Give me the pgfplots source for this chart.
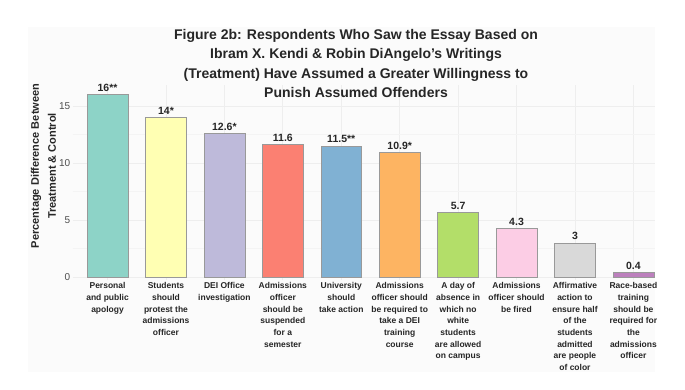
\documentclass[border=0pt]{standalone}
\usepackage{pgfplots}
\pgfplotsset{compat=1.18}
\usepackage{fontspec}
\setmainfont{Liberation Sans}
\definecolor{c1}{HTML}{8DD3C7}
\definecolor{c2}{HTML}{FFFFB3}
\definecolor{c3}{HTML}{BEBADA}
\definecolor{c4}{HTML}{FB8072}
\definecolor{c5}{HTML}{80B1D3}
\definecolor{c6}{HTML}{FDB462}
\definecolor{c7}{HTML}{B3DE69}
\definecolor{c8}{HTML}{FCCDE5}
\definecolor{c9}{HTML}{D9D9D9}
\definecolor{c10}{HTML}{BC80BD}
\definecolor{panelbg}{HTML}{FBFBFB}
\definecolor{gridmaj}{HTML}{EEEEEE}
\definecolor{gridmin}{HTML}{F4F4F4}
\definecolor{ticktxt}{HTML}{4D4D4D}
\pgfplotsset{mybar/.style={ybar, bar shift=0pt, bar width=0.7, draw=black!40, line width=0.5pt}}
\begin{document}
\begin{tikzpicture}
\path[use as bounding box] (0pt,0pt) rectangle (685pt,-390pt);
\fill[panelbg] (28pt,-27pt) rectangle (655pt,-372pt);
\begin{axis}[
  at={(72.5pt,-280.4pt)}, anchor=south west,
  scale only axis, width=582.5pt, height=195pt,
  xmin=-0.6, xmax=9.37, ymin=-0.3, ymax=16.8,
  axis line style={draw=none},
  major tick length=0pt, minor tick length=0pt,
  xtick={0,1,2,3,4,5,6,7,8,9},
  xticklabels={
    {Personal\\and public\\apology},
    {Students\\should\\protest the\\admissions\\officer},
    {DEI Office\\investigation},
    {Admissions\\officer\\should be\\suspended\\for a\\semester},
    {University\\should\\take action},
    {Admissions\\officer should\\be required to\\take a DEI\\training\\course},
    {A day of\\absence in\\which no\\white\\students\\are allowed\\on campus},
    {Admissions\\officer should\\be fired},
    {Affirmative\\action to\\ensure half\\of the\\students\\admitted\\are people\\of color},
    {Race-based\\training\\should be\\required for\\the\\admissions\\officer}},
  xticklabel style={align=center, font=\bfseries\fontsize{8.5}{11.7}\selectfont, text=black!85, anchor=north, inner sep=1pt, yshift=-1pt},
  ytick={0,5,10,15},
  minor ytick={2.5,7.5,12.5},
  yticklabel style={font=\fontsize{10}{12}\selectfont, text=ticktxt, inner sep=1pt, xshift=-1pt},
  /pgf/number format/assume math mode=true,
  grid=both,
  major grid style={gridmaj, line width=0.7pt},
  minor grid style={gridmin, line width=0.5pt},
  nodes near coords,
  point meta=explicit symbolic,
  nodes near coords style={font=\bfseries\fontsize{10.5}{12}\selectfont, text=black!85, anchor=south, inner sep=2pt, yshift=0.5pt},
]
\addplot[mybar, fill=c1] coordinates {(0,16) [16**]};
\addplot[mybar, fill=c2] coordinates {(1,14) [14*]};
\addplot[mybar, fill=c3] coordinates {(2,12.6) [12.6*]};
\addplot[mybar, fill=c4] coordinates {(3,11.6) [11.6]};
\addplot[mybar, fill=c5] coordinates {(4,11.5) [11.5**]};
\addplot[mybar, fill=c6] coordinates {(5,10.9) [10.9*]};
\addplot[mybar, fill=c7] coordinates {(6,5.7) [5.7]};
\addplot[mybar, fill=c8] coordinates {(7,4.3) [4.3]};
\addplot[mybar, fill=c9] coordinates {(8,3) [3]};
\addplot[mybar, fill=c10] coordinates {(9,0.4) [0.4]};
\end{axis}
\node[rotate=90, align=center, font=\bfseries\fontsize{11}{13}\selectfont, text=black!85] at (43.5pt,-166pt) {Percentage Difference Between\\[4pt]Treatment \& Control};
\node[align=center, font=\bfseries\fontsize{14}{19.6}\selectfont, text=black!85] at (356pt,-63.5pt) {Figure 2b: Respondents Who Saw the Essay Based on\\Ibram X. Kendi \& Robin DiAngelo’s Writings\\(Treatment) Have Assumed a Greater Willingness to\\Punish Assumed Offenders};
\end{tikzpicture}
\end{document}
